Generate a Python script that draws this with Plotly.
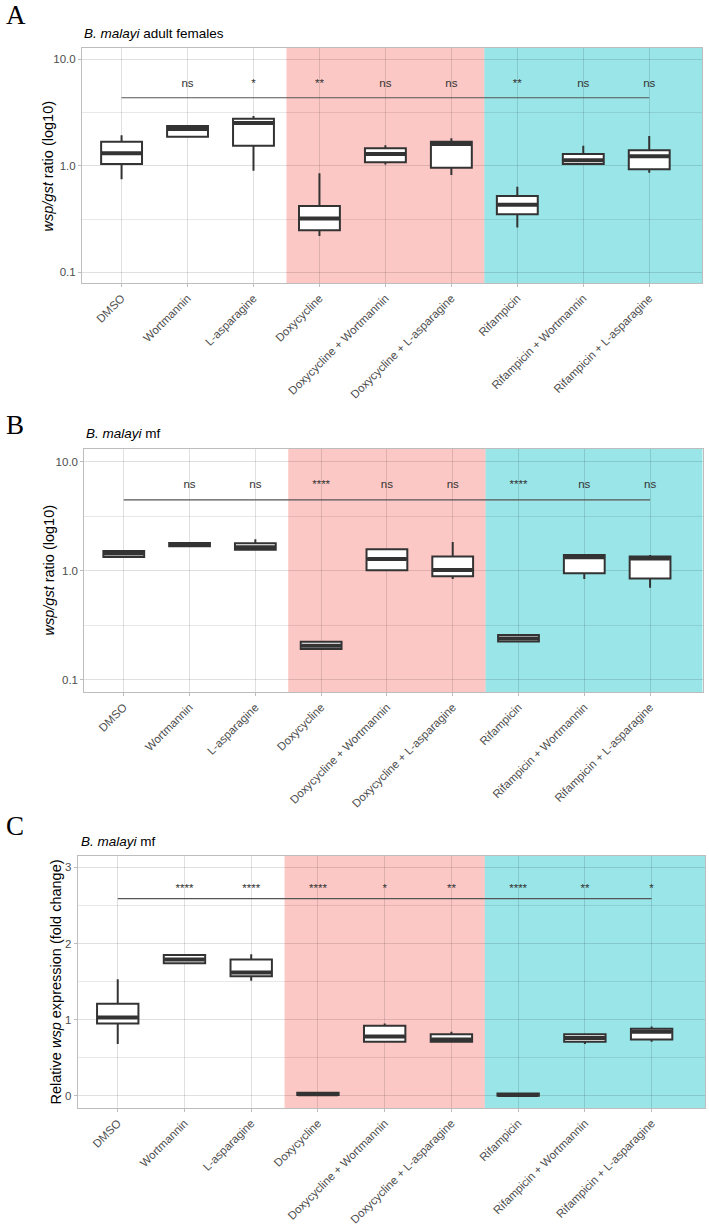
import plotly.graph_objects as go

W, H = 709, 1226

categories = ["DMSO", "Wortmannin", "L-asparagine", "Doxycycline",
              "Doxycycline + Wortmannin", "Doxycycline + L-asparagine",
              "Rifampicin", "Rifampicin + Wortmannin", "Rifampicin + L-asparagine"]

# Panel A: B. malayi adult females, wsp/gst ratio
a_lower = [0.75, 1.87, 0.90, 0.219, 1.03, 0.82, 0.264, 1.04, 0.86]
a_q1    = [1.04, 1.87, 1.54, 0.249, 1.08, 0.96, 0.352, 1.04, 0.93]
a_med   = [1.31, 2.22, 2.53, 0.32, 1.29, 1.60, 0.43, 1.13, 1.23]
a_q3    = [1.68, 2.36, 2.76, 0.42, 1.46, 1.68, 0.52, 1.29, 1.40]
a_upper = [1.94, 2.36, 2.93, 0.85, 1.56, 1.81, 0.635, 1.54, 1.90]
a_sig   = ["", "ns", "*", "**", "ns", "ns", "**", "ns", "ns"]

# Panel B: B. malayi mf, wsp/gst ratio
b_lower = [1.32, 1.68, 1.56, 0.192, 1.01, 0.84, 0.225, 0.84, 0.70]
b_q1    = [1.34, 1.68, 1.56, 0.192, 1.01, 0.89, 0.225, 0.95, 0.85]
b_med   = [1.44, 1.74, 1.64, 0.206, 1.28, 1.02, 0.24, 1.33, 1.30]
b_q3    = [1.52, 1.80, 1.79, 0.224, 1.58, 1.35, 0.258, 1.40, 1.35]
b_upper = [1.55, 1.82, 1.95, 0.224, 1.58, 1.84, 0.258, 1.40, 1.40]
b_sig   = ["", "ns", "ns", "****", "ns", "ns", "****", "ns", "ns"]

# Panel C: B. malayi mf, relative wsp expression
c_lower = [0.68, 1.74, 1.51, 0.00, 0.71, 0.70, -0.01, 0.68, 0.71]
c_q1    = [0.95, 1.74, 1.57, 0.01, 0.71, 0.71, 0.00, 0.71, 0.74]
c_med   = [1.03, 1.79, 1.62, 0.02, 0.78, 0.74, 0.01, 0.76, 0.84]
c_q3    = [1.21, 1.85, 1.79, 0.04, 0.92, 0.81, 0.03, 0.81, 0.88]
c_upper = [1.53, 1.86, 1.86, 0.04, 0.95, 0.84, 0.03, 0.81, 0.91]
c_sig   = ["", "****", "****", "****", "*", "**", "****", "**", "*"]

FONT = "Liberation Sans, Arial, sans-serif"
pos = list(range(len(categories)))
BOXW = 0.62

def px_x(p):
    return p / W

def px_y(p):
    return 1 - p / H

panels = [
    dict(ax="", lower=a_lower, q1=a_q1, med=a_med, q3=a_q3, upper=a_upper, sig=a_sig,
         dom_x=(82, 702), dom_y=(48, 283), log=True, yr=[-1.1, 1.106],
         line_y=4.35, sig_y=5.9, letter="A", letter_y=15,
         title="<i>B. malayi</i> adult females", title_xy=(82, 33),
         ytitle="<i>wsp/gst</i> ratio (log10)", ytitle_xy=(47, 165.5)),
    dict(ax="2", lower=b_lower, q1=b_q1, med=b_med, q3=b_q3, upper=b_upper, sig=b_sig,
         dom_x=(84.3, 702.7), dom_y=(449, 692), log=True, yr=[-1.11, 1.116],
         line_y=4.47, sig_y=6.1, letter="B", letter_y=425,
         title="<i>B. malayi</i> mf", title_xy=(84, 433),
         ytitle="<i>wsp/gst</i> ratio (log10)", ytitle_xy=(48.5, 570)),
    dict(ax="3", lower=c_lower, q1=c_q1, med=c_med, q3=c_q3, upper=c_upper, sig=c_sig,
         dom_x=(77.7, 705), dom_y=(856, 1108), log=False, yr=[-0.16, 3.15],
         line_y=2.59, sig_y=2.72, letter="C", letter_y=826,
         title="<i>B. malayi</i> mf", title_xy=(79, 841.7),
         ytitle="Relative <i>wsp</i> expression (fold change)", ytitle_xy=(55.5, 982)),
]

fig = go.Figure()
shapes = []
annotations = []
layout_axes = {}

for p in panels:
    xa = "x" + p["ax"]
    ya = "y" + p["ax"]
    fig.add_trace(go.Box(
        x=pos, q1=p["q1"], median=p["med"], q3=p["q3"],
        lowerfence=p["lower"], upperfence=p["upper"],
        width=BOXW, whiskerwidth=0, boxpoints=False,
        line=dict(color="#333333", width=2), fillcolor="white",
        showlegend=False, hoverinfo="skip", xaxis=xa, yaxis=ya))
    # thicker median bars (ggplot style)
    mx, my = [], []
    for i, m in zip(pos, p["med"]):
        mx += [i - BOXW / 2 + 0.01, i + BOXW / 2 - 0.01, None]
        my += [m, m, None]
    fig.add_trace(go.Scatter(
        x=mx, y=my, mode="lines", line=dict(color="#333333", width=4),
        showlegend=False, hoverinfo="skip", xaxis=xa, yaxis=ya))
    fig.add_trace(go.Scatter(
        x=[pos[0], pos[-1]], y=[p["line_y"], p["line_y"]], mode="lines",
        line=dict(color="#555555", width=1.1), showlegend=False,
        hoverinfo="skip", xaxis=xa, yaxis=ya))
    fig.add_trace(go.Scatter(
        x=pos, y=[p["sig_y"]] * len(pos), mode="text", text=p["sig"],
        textposition="middle center",
        textfont=dict(family=FONT, size=11.5, color="#333333"),
        showlegend=False, hoverinfo="skip", xaxis=xa, yaxis=ya))

    shapes.append(dict(type="rect", xref=xa, yref=ya + " domain", x0=2.5, x1=5.5,
                       y0=0, y1=1, fillcolor="rgba(248,118,109,0.4)",
                       line=dict(width=0), layer="below"))
    shapes.append(dict(type="rect", xref=xa, yref=ya + " domain", x0=5.5, x1=8.8,
                       y0=0, y1=1, fillcolor="rgba(0,191,196,0.4)",
                       line=dict(width=0), layer="below"))

    xkey = "xaxis" + p["ax"]
    ykey = "yaxis" + p["ax"]
    layout_axes[xkey] = dict(
        domain=[px_x(p["dom_x"][0]), px_x(p["dom_x"][1])],
        anchor=ya, range=[-0.6, 8.8], tickmode="array", tickvals=pos,
        ticktext=categories, tickangle=-45,
        tickfont=dict(family=FONT, size=11.5, color="#4D4D4D"),
        showgrid=True, gridcolor="rgba(0,0,0,0.12)", gridwidth=1, zeroline=False,
        showline=True, mirror=True, linecolor="#BDBDBD", linewidth=1,
        ticks="outside", ticklen=3, tickcolor="#BDBDBD", tickwidth=1)
    if p["log"]:
        yticks = dict(type="log", range=p["yr"], tickmode="array",
                      tickvals=[0.1, 1, 10], ticktext=["0.1", "1.0", "10.0"],
                      minor=dict(tickmode="array", tickvals=[10 ** -0.5, 10 ** 0.5],
                                 showgrid=True, gridcolor="rgba(0,0,0,0.09)",
                                 gridwidth=0.8, ticks=""))
    else:
        yticks = dict(type="linear", range=p["yr"], tickmode="array",
                      tickvals=[0, 1, 2, 3], ticktext=["0", "1", "2", "3"],
                      minor=dict(tickmode="array", tickvals=[0.5, 1.5, 2.5],
                                 showgrid=True, gridcolor="rgba(0,0,0,0.09)",
                                 gridwidth=0.8, ticks=""))
    layout_axes[ykey] = dict(
        domain=[px_y(p["dom_y"][1]), px_y(p["dom_y"][0])],
        anchor=xa, tickfont=dict(family=FONT, size=11.5, color="#4D4D4D"),
        showgrid=True, gridcolor="rgba(0,0,0,0.12)", gridwidth=1, zeroline=False,
        showline=True, mirror=True, linecolor="#BDBDBD", linewidth=1,
        ticks="outside", ticklen=3, tickcolor="#BDBDBD", tickwidth=1, **yticks)

    annotations.append(dict(text=p["letter"], xref="paper", yref="paper",
                            x=px_x(4), y=px_y(p["letter_y"]), xanchor="left",
                            yanchor="middle", showarrow=False,
                            font=dict(family="Liberation Serif, Times New Roman, serif",
                                      size=27, color="black")))
    annotations.append(dict(text=p["title"], xref="paper", yref="paper",
                            x=px_x(p["title_xy"][0]), y=px_y(p["title_xy"][1]),
                            xanchor="left", yanchor="middle", showarrow=False,
                            font=dict(family=FONT, size=13.5, color="black")))
    annotations.append(dict(text=p["ytitle"], xref="paper", yref="paper",
                            x=px_x(p["ytitle_xy"][0]), y=px_y(p["ytitle_xy"][1]),
                            xanchor="center", yanchor="middle", textangle=-90,
                            showarrow=False,
                            font=dict(family=FONT, size=14.5, color="black")))

fig.update_layout(
    width=W, height=H, margin=dict(l=0, r=0, t=0, b=0),
    paper_bgcolor="white", plot_bgcolor="white",
    shapes=shapes, annotations=annotations, showlegend=False,
    **layout_axes)

fig.write_html("out.html")
